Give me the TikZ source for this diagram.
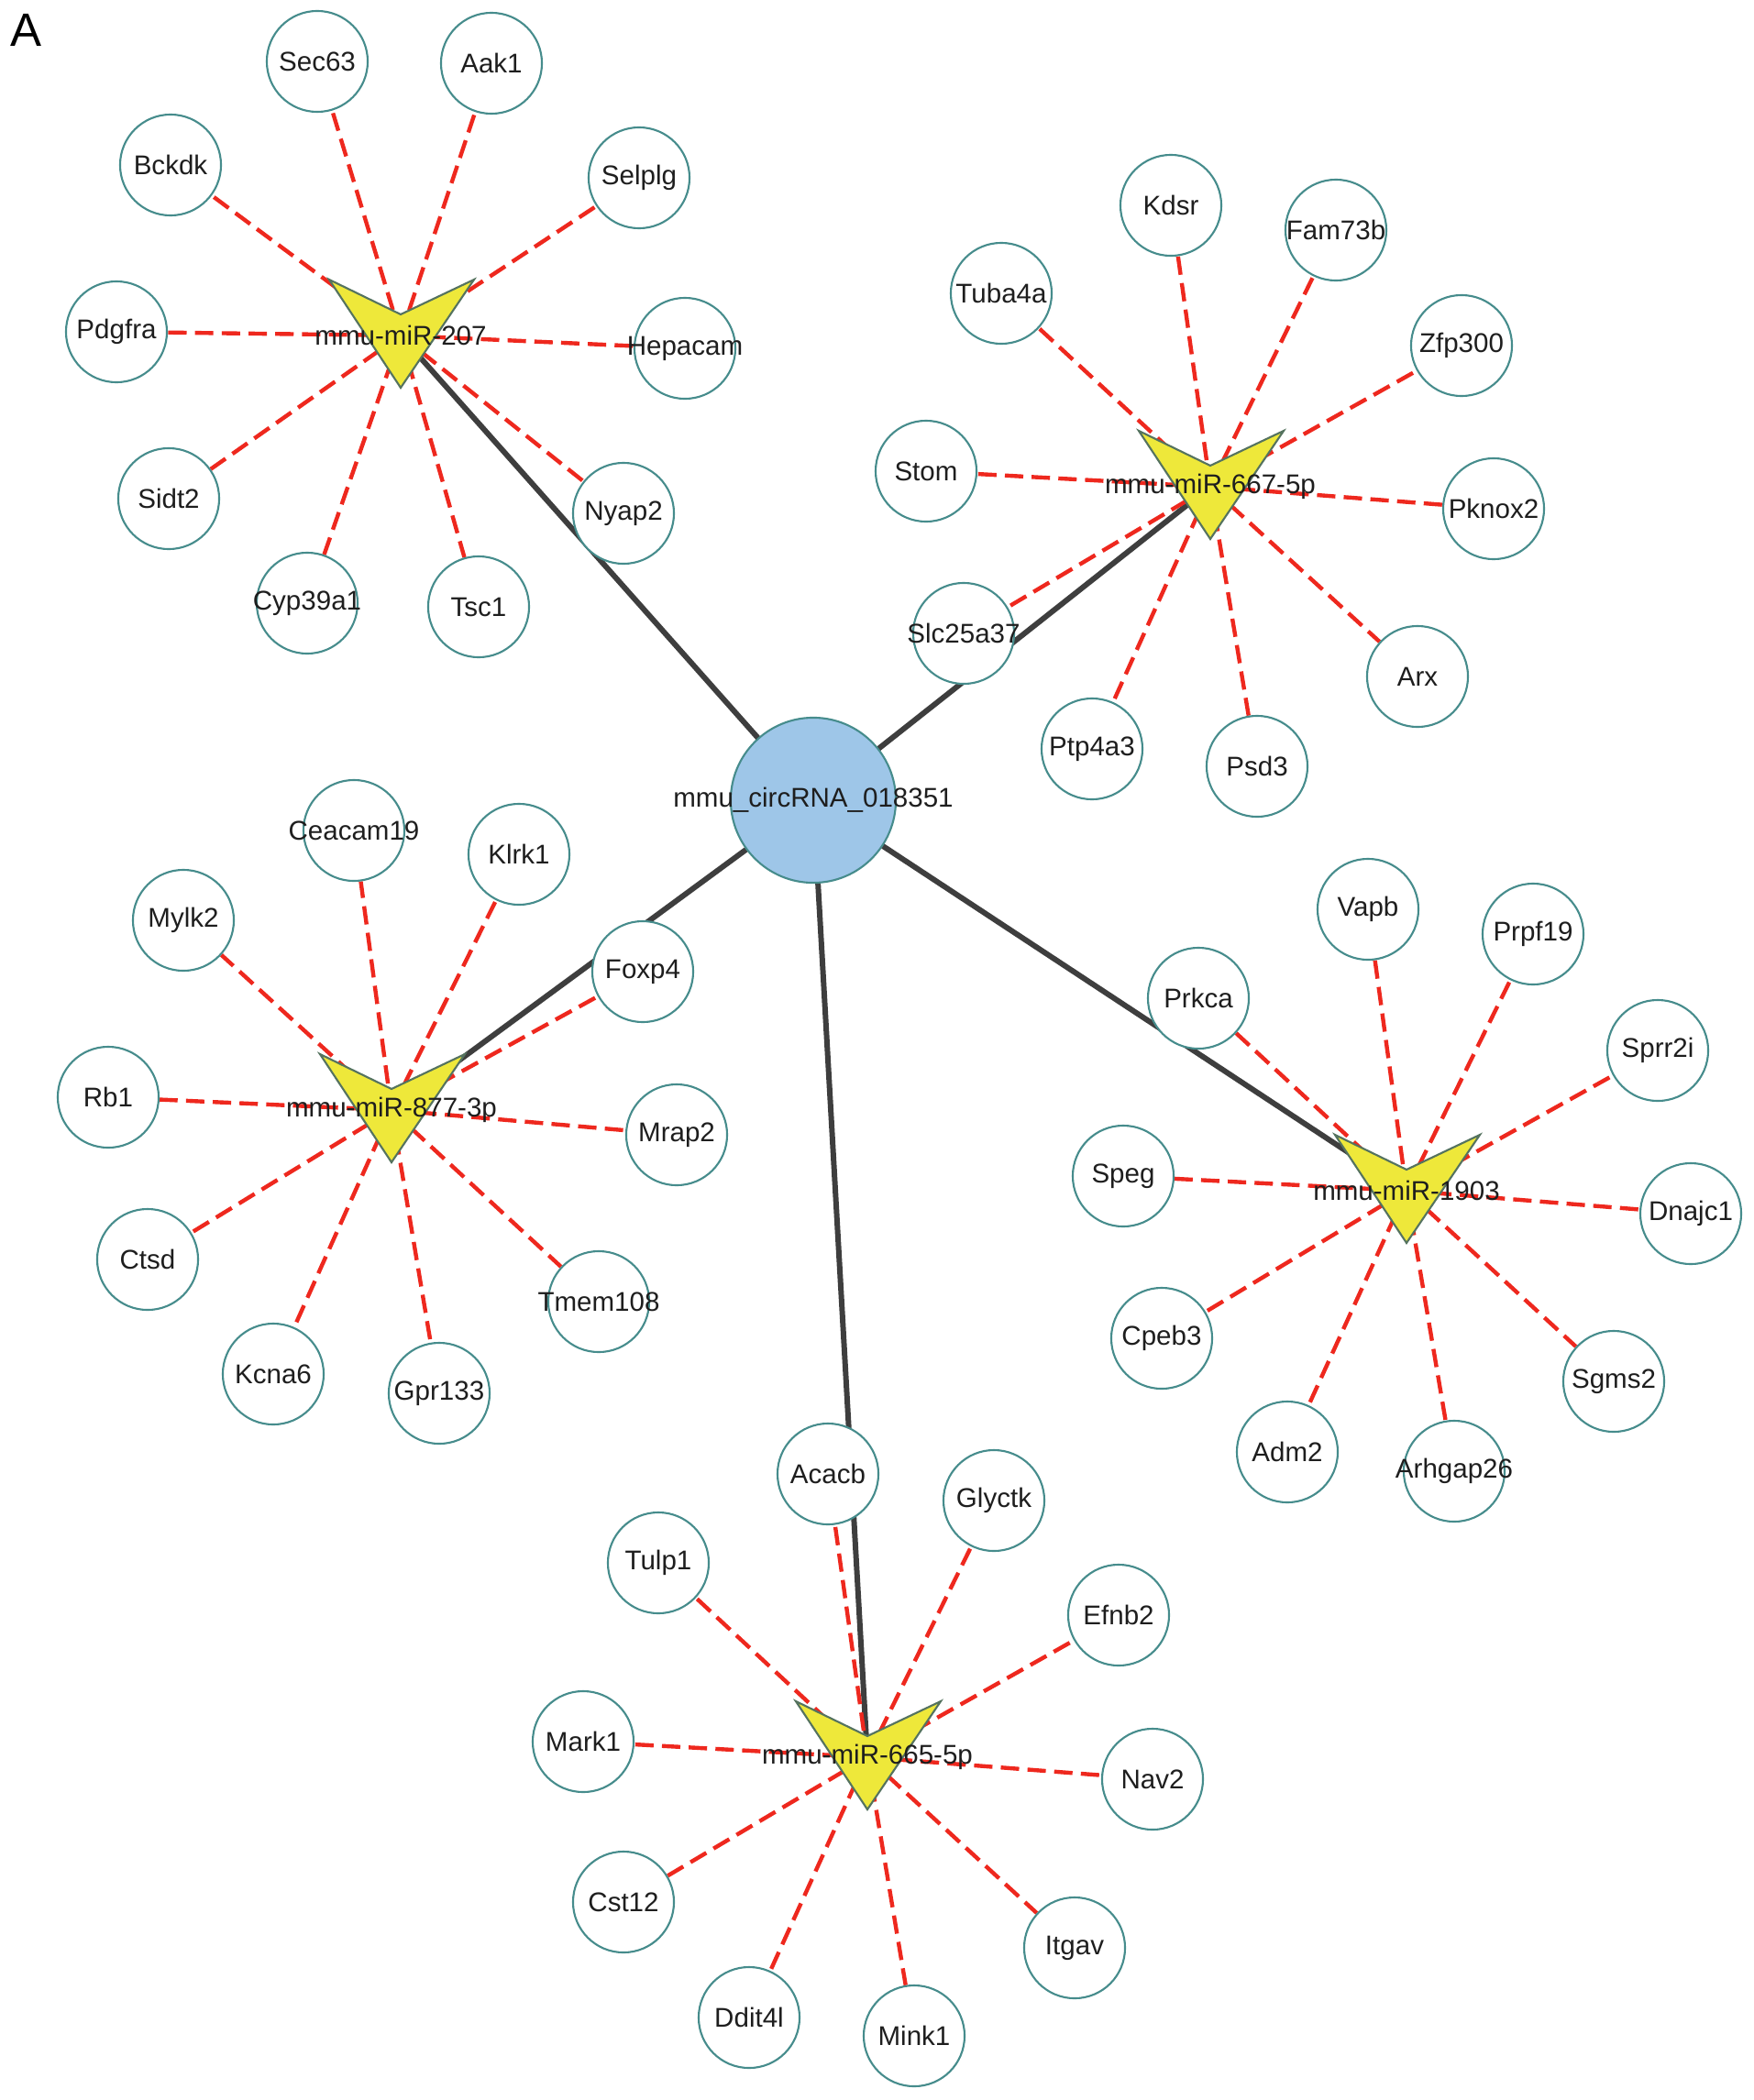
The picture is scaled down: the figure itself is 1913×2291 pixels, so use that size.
\documentclass[tikz,border=0pt]{standalone}
\usepackage{fontspec}
\setmainfont{Liberation Sans}
\usetikzlibrary{backgrounds}
\definecolor{genebord}{RGB}{70,140,140}
\definecolor{circblue}{RGB}{158,198,232}
\definecolor{veeyellow}{RGB}{238,232,58}
\definecolor{veebord}{RGB}{85,115,95}
\definecolor{hubgray}{RGB}{62,62,62}
\definecolor{targetred}{RGB}{238,40,30}
\definecolor{labelgray}{RGB}{30,30,30}
\newcommand{\genefont}{\fontsize{8.4}{10}\selectfont}

\begin{document}
\begin{tikzpicture}[
		x=0.01cm, y=-0.01cm,
		gene/.style={circle, draw=genebord, line width=0.6pt, fill=white,
			minimum size=1.1cm, inner sep=0pt, font=\genefont, text=labelgray,
			execute at begin node={\hbox to 0pt\bgroup\hss},
			execute at end node={\hss\egroup}},
		circ/.style={gene, fill=circblue, minimum size=1.8cm},
		mirna/.style={inner sep=0pt, font=\genefont, text=labelgray},
		hub/.style={line width=1.7pt, draw=hubgray},
		target/.style={line width=1.25pt, draw=targetred, dash pattern=on 5.7pt off 2.6pt},
		vee/.pic={\filldraw[fill=veeyellow, draw=veebord, line width=0.6pt]
			(-78,-60) -- (0,-22) -- (80,-60) -- (0,58) -- cycle;}
	]
		\useasboundingbox (0,0) rectangle (1913,2291);
		\node[font=\fontsize{14.5}{17}\selectfont] (panel) at (29,33) {A};

		% miRNA hubs
		\pic at (437,365) {vee};
		\pic at (1320,530) {vee};
		\pic at (427,1210) {vee};
		\pic at (1534,1298) {vee};
		\pic at (946,1916) {vee};
		\node[mirna] (mir207) at (437,366) {mmu-miR-207};
		\node[mirna] (mir667) at (1320,531) {mmu-miR-667-5p};
		\node[mirna] (mir877) at (427,1211) {mmu-miR-877-3p};
		\node[mirna] (mir1903) at (1534,1299) {mmu-miR-1903};
		\node[mirna] (mir665) at (946,1917) {mmu-miR-665-5p};

		\node[circ] (circ) at (887,873) {mmu\_circRNA\_018351};

		% targets of miR-207
		\node[gene] (sec63) at (346,67) {Sec63};
		\node[gene] (aak1) at (536,69) {Aak1};
		\node[gene] (bckdk) at (186,180) {Bckdk};
		\node[gene] (selplg) at (697,194) {Selplg};
		\node[gene] (pdgfra) at (127,362) {Pdgfra};
		\node[gene] (hepacam) at (747,380) {Hepacam};
		\node[gene] (sidt2) at (184,544) {Sidt2};
		\node[gene] (nyap2) at (680,560) {Nyap2};
		\node[gene] (cyp39a1) at (335,658) {Cyp39a1};
		\node[gene] (tsc1) at (522,662) {Tsc1};

		% targets of miR-667-5p
		\node[gene] (kdsr) at (1277,224) {Kdsr};
		\node[gene] (fam73b) at (1457,251) {Fam73b};
		\node[gene] (tuba4a) at (1092,320) {Tuba4a};
		\node[gene] (zfp300) at (1594,377) {Zfp300};
		\node[gene] (stom) at (1010,514) {Stom};
		\node[gene] (pknox2) at (1629,555) {Pknox2};
		\node[gene] (slc25a37) at (1051,691) {Slc25a37};
		\node[gene] (arx) at (1546,738) {Arx};
		\node[gene] (ptp4a3) at (1191,817) {Ptp4a3};
		\node[gene] (psd3) at (1371,836) {Psd3};

		% targets of miR-877-3p
		\node[gene] (ceacam19) at (386,906) {Ceacam19};
		\node[gene] (klrk1) at (566,932) {Klrk1};
		\node[gene] (mylk2) at (200,1004) {Mylk2};
		\node[gene] (foxp4) at (701,1060) {Foxp4};
		\node[gene] (rb1) at (118,1197) {Rb1};
		\node[gene] (mrap2) at (738,1238) {Mrap2};
		\node[gene] (ctsd) at (161,1374) {Ctsd};
		\node[gene] (tmem108) at (653,1420) {Tmem108};
		\node[gene] (kcna6) at (298,1499) {Kcna6};
		\node[gene] (gpr133) at (479,1520) {Gpr133};

		% targets of miR-1903
		\node[gene] (vapb) at (1492,992) {Vapb};
		\node[gene] (prpf19) at (1672,1019) {Prpf19};
		\node[gene] (prkca) at (1307,1089) {Prkca};
		\node[gene] (sprr2i) at (1808,1146) {Sprr2i};
		\node[gene] (speg) at (1225,1283) {Speg};
		\node[gene] (dnajc1) at (1844,1324) {Dnajc1};
		\node[gene] (cpeb3) at (1267,1460) {Cpeb3};
		\node[gene] (sgms2) at (1760,1507) {Sgms2};
		\node[gene] (adm2) at (1404,1584) {Adm2};
		\node[gene] (arhgap26) at (1586,1605) {Arhgap26};

		% targets of miR-665-5p
		\node[gene] (acacb) at (903,1608) {Acacb};
		\node[gene] (glyctk) at (1084,1637) {Glyctk};
		\node[gene] (tulp1) at (718,1705) {Tulp1};
		\node[gene] (efnb2) at (1220,1762) {Efnb2};
		\node[gene] (mark1) at (636,1900) {Mark1};
		\node[gene] (nav2) at (1257,1941) {Nav2};
		\node[gene] (cst12) at (680,2075) {Cst12};
		\node[gene] (itgav) at (1172,2125) {Itgav};
		\node[gene] (ddit4l) at (817,2201) {Ddit4l};
		\node[gene] (mink1) at (997,2221) {Mink1};

		\begin{scope}[on background layer]
			\draw[hub] (circ.center) edge (mir207.center) edge (mir667.center)
				edge (mir877.center) edge (mir1903.center) edge (mir665.center);
			\draw[target] (mir207.center) edge (sec63) edge (aak1) edge (bckdk)
				edge (selplg) edge (pdgfra) edge (hepacam) edge (sidt2)
				edge (nyap2) edge (cyp39a1) edge (tsc1);
			\draw[target] (mir667.center) edge (kdsr) edge (fam73b) edge (tuba4a)
				edge (zfp300) edge (stom) edge (pknox2) edge (slc25a37)
				edge (arx) edge (ptp4a3) edge (psd3);
			\draw[target] (mir877.center) edge (ceacam19) edge (klrk1) edge (mylk2)
				edge (foxp4) edge (rb1) edge (mrap2) edge (ctsd)
				edge (tmem108) edge (kcna6) edge (gpr133);
			\draw[target] (mir1903.center) edge (vapb) edge (prpf19) edge (prkca)
				edge (sprr2i) edge (speg) edge (dnajc1) edge (cpeb3)
				edge (sgms2) edge (adm2) edge (arhgap26);
			\draw[target] (mir665.center) edge (acacb) edge (glyctk) edge (tulp1)
				edge (efnb2) edge (mark1) edge (nav2) edge (cst12)
				edge (itgav) edge (ddit4l) edge (mink1);
		\end{scope}
	\end{tikzpicture}
\end{document}
